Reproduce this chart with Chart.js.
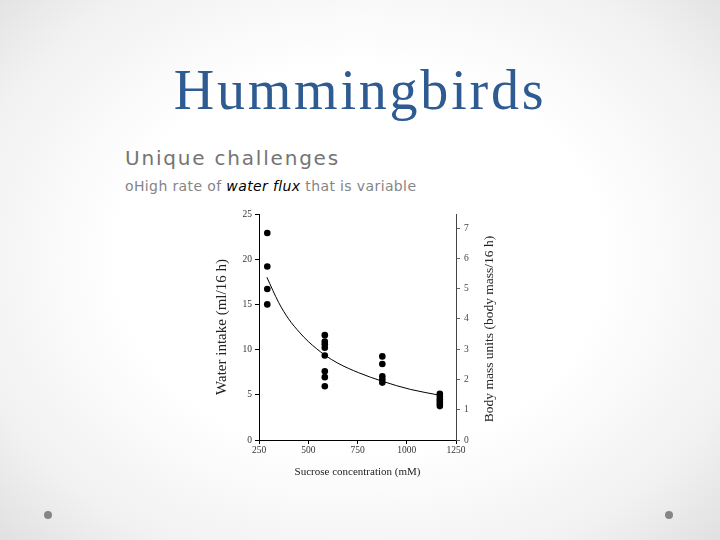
<!DOCTYPE html>
<html>
<head>
<meta charset="utf-8">
<script src="https://cdn.jsdelivr.net/npm/chart.js@4"></script>
<style>
  html, body { margin: 0; padding: 0; }
  body {
    width: 720px; height: 540px; position: relative; overflow: hidden;
    background: radial-gradient(ellipse 75% 80% at 50% 48%, #ffffff 45%, #f1f1f1 75%, #dadada 100%);
  }
  #title {
    position: absolute; left: 0; width: 720px; top: 58px; text-align: center;
    font-family: "Liberation Serif", serif; font-size: 56px; color: #2f5b93;
    letter-spacing: 2.8px; line-height: 64px;
  }
  #sub {
    position: absolute; left: 125px; top: 146px;
    font-family: "DejaVu Sans", sans-serif; font-size: 20px; color: #747474;
    letter-spacing: 1.8px; white-space: nowrap;
  }
  #bullet {
    position: absolute; left: 125px; top: 178px;
    font-family: "DejaVu Sans", sans-serif; font-size: 14px; color: #858585;
    white-space: nowrap; letter-spacing: 0.38px;
  }
  #bullet i { color: #000; }
  .dot { position: absolute; width: 8px; height: 8px; border-radius: 50%; background: #858585; }
  #chartBox { position: absolute; left: 200px; top: 204px; width: 310px; height: 282px; }
</style>
</head>
<body>
<div id="title">Hummingbirds</div>
<div id="sub">Unique challenges</div>
<div id="bullet">oHigh rate of <i>water flux</i> that is variable</div>
<div class="dot" style="left:44px; top:511px;"></div>
<div class="dot" style="left:665px; top:511px;"></div>
<div id="chartBox"><canvas id="waterChart" width="310" height="282"></canvas></div>

<script>
// Sucrose concentrations of the four diets (mM)
const concentrations = [292, 584, 876, 1168];

// Water intake (ml/16 h) for each bird at each concentration
const intake292 = [22.9, 19.2, 16.7, 15.0];
const intake584 = [11.6, 10.9, 10.6, 10.2, 9.35, 7.6, 6.95, 5.95];
const intake876 = [9.25, 8.4, 7.05, 6.7, 6.35];
const intake1168 = [5.1, 4.8, 4.5, 4.25, 4.0, 3.75];

// Fitted curve
const fitX = [290, 350, 400, 458, 500, 584, 650, 755, 876, 1018, 1168];
const fitY = [18.0, 15.2, 13.4, 11.85, 10.9, 9.4, 8.5, 7.45, 6.5, 5.6, 4.95];

// Tick labels
const xTicks = [250, 500, 750, 1000, 1250];
const leftTicks = [0, 5, 10, 15, 20, 25];
const rightTicks = [0, 1, 2, 3, 4, 5, 6, 7];
const rightMax = 7.47; // 25 ml expressed in body mass units
const rightTitle = 'Body mass units (body mass/16 h)';

const groups = [intake292, intake584, intake876, intake1168];
const birdPoints = [];
groups.forEach((vals, i) => {
    vals.forEach(v => birdPoints.push({ x: concentrations[i], y: v }));
});
const fitPoints = fitX.map((x, i) => ({ x: x, y: fitY[i] }));

const serif = "'Liberation Serif', 'Times New Roman', serif";
const fixTicks = list => scale => { scale.ticks = list.map(v => ({ value: v })); };

// right axis title reads bottom to top in the figure
const rightTitlePlugin = {
    id: 'rightTitle',
    afterDraw(chart) {
        const { ctx, chartArea } = chart;
        ctx.save();
        ctx.translate(289, (chartArea.top + chartArea.bottom) / 2 + 2);
        ctx.rotate(-Math.PI / 2);
        ctx.font = '13.5px ' + serif;
        ctx.fillStyle = '#222';
        ctx.textAlign = 'center';
        ctx.textBaseline = 'middle';
        ctx.fillText(rightTitle, 0, 0);
        ctx.restore();
    }
};

new Chart(document.getElementById('waterChart'), {
    type: 'scatter',
    data: {
        datasets: [
            {
                data: birdPoints,
                backgroundColor: '#000',
                borderWidth: 0,
                pointRadius: 3.3,
                yAxisID: 'y'
            },
            {
                data: fitPoints,
                showLine: true,
                borderColor: '#000',
                borderWidth: 1,
                pointRadius: 0,
                cubicInterpolationMode: 'monotone',
                yAxisID: 'y'
            }
        ]
    },
    options: {
        responsive: false,
        animation: false,
        layout: { padding: { top: 10, left: 0, right: 0, bottom: 0 } },
        plugins: {
            legend: { display: false },
            tooltip: { enabled: false }
        },
        scales: {
            x: {
                type: 'linear',
                min: 250,
                max: 1250,
                afterBuildTicks: fixTicks(xTicks),
                afterFit: s => { s.height = 46; },
                border: { display: true, color: '#000', width: 1 },
                grid: { drawOnChartArea: false, tickLength: 4, tickColor: '#000' },
                ticks: {
                    color: '#333', padding: 1, maxRotation: 0,
                    font: { family: serif, size: 9.5 },
                    callback: v => String(v)
                },
                title: {
                    display: true,
                    text: 'Sucrose concentration (mM)',
                    color: '#222',
                    padding: { top: 0, bottom: 7 },
                    font: { family: serif, size: 11 }
                }
            },
            y: {
                position: 'left',
                min: 0,
                max: 25,
                afterBuildTicks: fixTicks(leftTicks),
                afterFit: s => { s.width = 59; },
                border: { display: true, color: '#000', width: 1 },
                grid: { drawOnChartArea: false, tickLength: 4, tickColor: '#000' },
                ticks: { color: '#333', padding: 3, font: { family: serif, size: 9.5 } },
                title: {
                    display: true,
                    text: 'Water intake (ml/16 h)',
                    color: '#222',
                    padding: { top: 13, bottom: 0 },
                    font: { family: serif, size: 15 }
                }
            },
            y2: {
                position: 'right',
                display: true,
                min: 0,
                max: rightMax,
                afterBuildTicks: fixTicks(rightTicks),
                afterFit: s => { s.width = 54; },
                border: { display: true, color: '#444', width: 1 },
                grid: { drawOnChartArea: false, tickLength: 4, tickColor: '#666' },
                ticks: { color: '#444', padding: 4, font: { family: serif, size: 9.5 } },
                title: { display: false }
            }
        }
    },
    plugins: [rightTitlePlugin]
});
</script>
</body>
</html>
